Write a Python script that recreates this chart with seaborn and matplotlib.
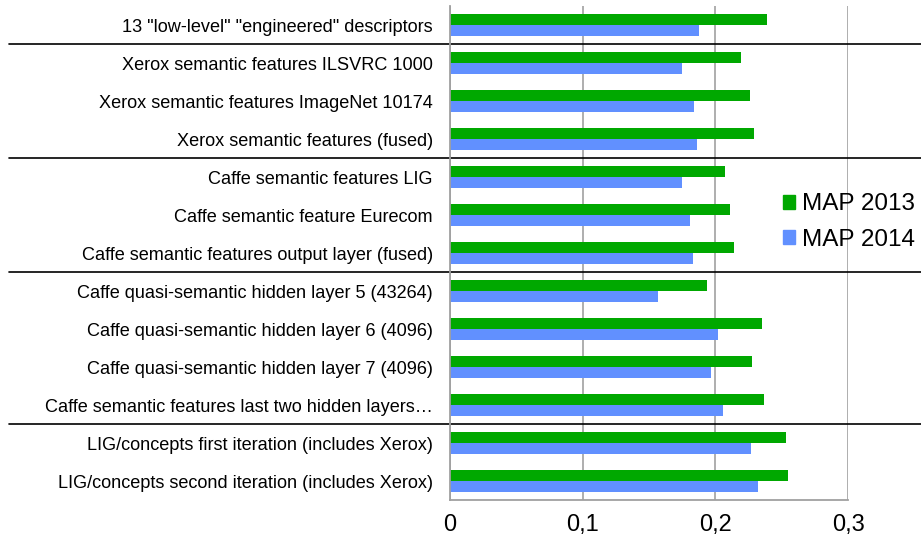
import matplotlib
matplotlib.use("Agg")
import matplotlib.pyplot as plt
import matplotlib.patches as mpatches
import pandas as pd
import seaborn as sns

# Data
labels = [
    '13 "low-level" "engineered" descriptors',
    'Xerox semantic features ILSVRC 1000',
    'Xerox semantic features ImageNet 10174',
    'Xerox semantic features (fused)',
    'Caffe semantic features LIG',
    'Caffe semantic feature Eurecom',
    'Caffe semantic features output layer (fused)',
    'Caffe quasi-semantic hidden layer 5 (43264)',
    'Caffe quasi-semantic hidden layer 6 (4096)',
    'Caffe quasi-semantic hidden layer 7 (4096)',
    'Caffe semantic features last two hidden layers\u2026',
    'LIG/concepts first iteration (includes Xerox)',
    'LIG/concepts second iteration (includes Xerox)',
]
map_2013 = [0.239, 0.219, 0.226, 0.229, 0.207, 0.211, 0.214,
            0.194, 0.235, 0.228, 0.237, 0.253, 0.255]
map_2014 = [0.188, 0.175, 0.184, 0.186, 0.175, 0.181, 0.183,
            0.157, 0.202, 0.197, 0.206, 0.227, 0.232]
series = ["MAP 2013", "MAP 2014"]
colors = ["#00a800", "#6190ff"]
group_breaks = [1, 4, 7, 11]  # separator drawn before these rows
xticks = [0, 0.1, 0.2, 0.3]
xtick_labels = ["0", "0,1", "0,2", "0,3"]

df = pd.DataFrame({
    "label": labels * 2,
    "value": map_2013 + map_2014,
    "series": [series[0]] * len(labels) + [series[1]] * len(labels),
})

sns.set_style("white")
plt.rcParams["font.family"] = ["Liberation Sans", "DejaVu Sans"]
plt.rcParams["text.color"] = "black"
plt.rcParams["xtick.labelcolor"] = "black"
plt.rcParams["ytick.labelcolor"] = "black"

fig = plt.figure(figsize=(9.21, 5.46), dpi=100)
ax = fig.add_axes([450 / 921, 1 - 500 / 546, 398 / 921, 494 / 546])

sns.barplot(data=df, y="label", x="value", hue="series", order=labels,
            hue_order=series, palette=colors, orient="h", width=0.56,
            saturation=1, linewidth=0, legend=False, ax=ax)

ax.set_xlim(0, 0.3)
ax.set_ylim(len(labels) - 0.5, -0.5)
ax.set_xticks(xticks)
ax.set_xticklabels(xtick_labels, fontsize=17)
ax.set_xlabel("")
ax.set_ylabel("")
ax.tick_params(axis="y", length=0, pad=12.3, labelsize=13.1)
ax.set_yticks([i - 0.5 for i in range(len(labels) + 1)], minor=True)
ax.tick_params(axis="y", which="minor", length=5, color="#a0a0a0", width=1.2)
ax.tick_params(axis="x", length=7, color="#a0a0a0", width=1.2, pad=3)
ax.grid(axis="x", color="#a8a8a8", linewidth=1.3)
ax.set_axisbelow(True)
for side in ["top", "right"]:
    ax.spines[side].set_visible(False)
for side in ["left", "bottom"]:
    ax.spines[side].set_color("#a0a0a0")
    ax.spines[side].set_linewidth(1.3)

# group separators across labels and plot
for b in group_breaks:
    ax.axhline(b - 0.5, xmin=-1.108, xmax=1.19, color="black",
               linewidth=1.2, clip_on=False)

handles = [mpatches.Patch(color=c, label=s) for s, c in zip(series, colors)]
fig.legend(handles=handles, loc="center left", bbox_to_anchor=(783 / 921, 1 - 222 / 546),
           frameon=False, fontsize=17.5, handlelength=0.5, handleheight=0.5,
           handletextpad=0.3, labelspacing=0.55, borderpad=0, borderaxespad=0)

fig.savefig("out.png", dpi=100)
